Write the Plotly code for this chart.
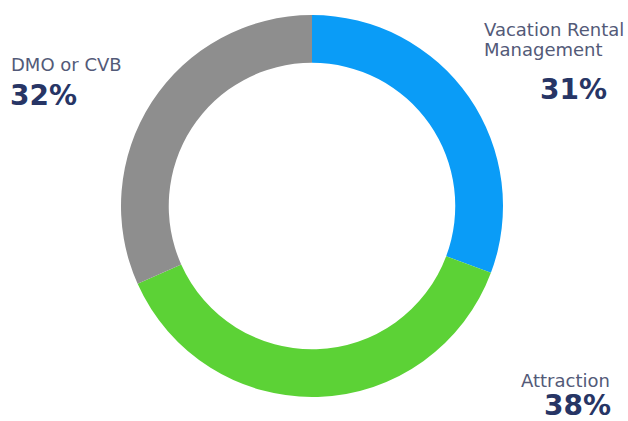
import plotly.graph_objects as go

categories = ["Vacation Rental Management", "Attraction", "DMO or CVB"]
values = [31, 38, 32]
colors = ["#0A9CF7", "#5CD236", "#8E8E8E"]

W, H = 628, 421
cx, cy, r = 312, 206, 191

fig = go.Figure(go.Pie(
    labels=categories, values=values, hole=0.75, sort=False,
    direction="clockwise", rotation=0,
    marker=dict(colors=colors, line=dict(width=0)),
    textinfo="none", hoverinfo="label+percent", showlegend=False,
    domain=dict(x=[(cx - r) / W, (cx + r) / W], y=[(H - cy - r) / H, (H - cy + r) / H]),
))

lab_col = "#535A78"
pct_col = "#273565"
font = "DejaVu Sans"

def px(x): return x / W
def py(y): return 1 - y / H

ann = [
    dict(x=px(9), y=py(64), text="DMO or CVB", xanchor="left", size=18, color=lab_col, bold=False),
    dict(x=px(8), y=py(96), text="32%", xanchor="left", size=28, color=pct_col, bold=True),
    dict(x=px(482), y=py(29), text="Vacation Rental", xanchor="left", size=18, color=lab_col, bold=False),
    dict(x=px(482), y=py(50), text="Management", xanchor="left", size=18, color=lab_col, bold=False),
    dict(x=px(609), y=py(89), text="31%", xanchor="right", size=28, color=pct_col, bold=True),
    dict(x=px(612), y=py(380), text="Attraction", xanchor="right", size=18, color=lab_col, bold=False),
    dict(x=px(613), y=py(405), text="38%", xanchor="right", size=28, color=pct_col, bold=True),
]
annotations = []
for a in ann:
    t = f"<b>{a['text']}</b>" if a["bold"] else a["text"]
    annotations.append(dict(x=a["x"], y=a["y"], xref="paper", yref="paper", text=t,
                            showarrow=False, xanchor=a["xanchor"], yanchor="middle",
                            font=dict(family=font, size=a["size"], color=a["color"])))

fig.update_layout(width=W, height=H, margin=dict(l=0, r=0, t=0, b=0),
                  paper_bgcolor="white", plot_bgcolor="white", annotations=annotations)
fig.write_html("out.html")
